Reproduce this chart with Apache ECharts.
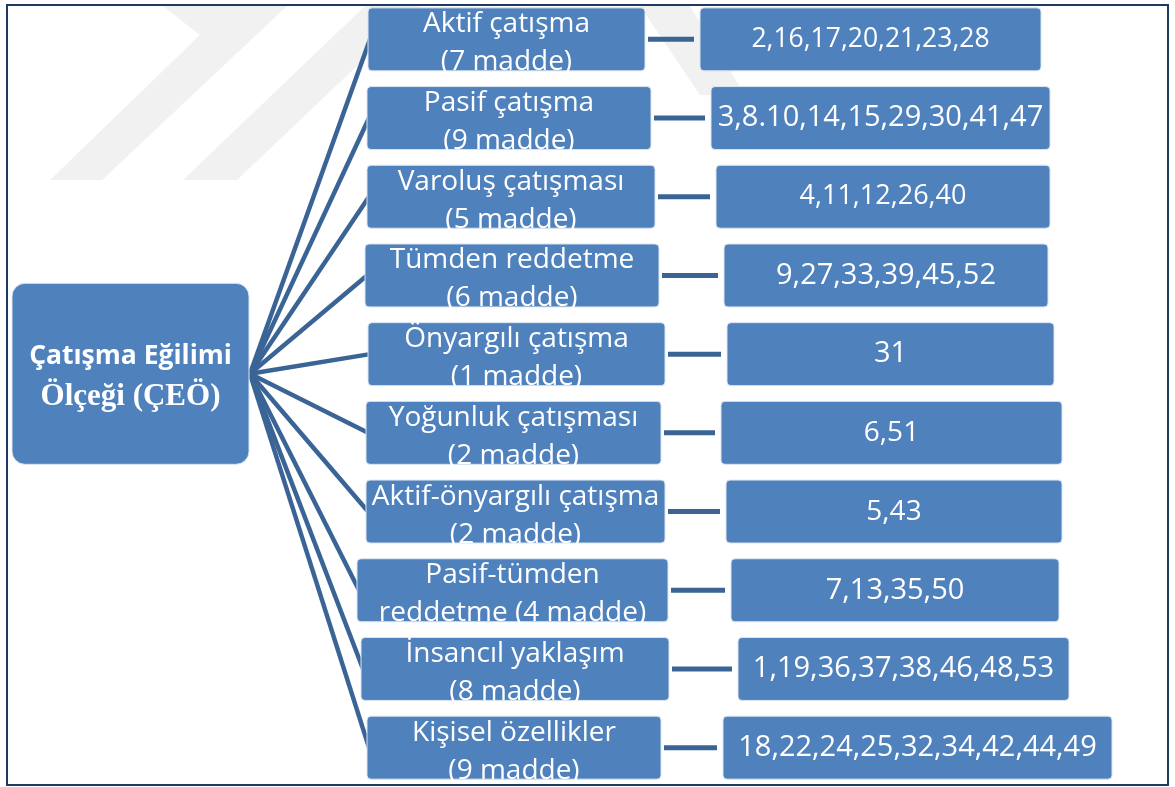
<!DOCTYPE html>
<html>
<head>
<meta charset="utf-8">
<script src="https://cdn.jsdelivr.net/npm/echarts@6/dist/echarts.min.js"></script>
<style>
  html, body { margin: 0; padding: 0; background: #fff; }
  #diagram { width: 1175px; height: 787px; }
</style>
</head>
<body>
<div id="diagram"></div>
<script>
var diagram = echarts.init(document.getElementById('diagram'));

// --- data ---
var rootTitle = 'Çatışma Eğilimi';
var rootSubtitle = 'Ölçeği (ÇEÖ)';
var subscaleLabels = [
    'Aktif çatışma\n(7 madde)',
    'Pasif çatışma\n(9 madde)',
    'Varoluş çatışması\n(5 madde)',
    'Tümden reddetme\n(6 madde)',
    'Önyargılı çatışma\n(1 madde)',
    'Yoğunluk çatışması\n(2 madde)',
    'Aktif-önyargılı çatışma\n(2 madde)',
    'Pasif-tümden\nreddetme (4 madde)',
    'İnsancıl yaklaşım\n(8 madde)',
    'Kişisel özellikler\n(9 madde)'
];
var itemNumbers = [
    '2,16,17,20,21,23,28',
    '3,8.10,14,15,29,30,41,47',
    '4,11,12,26,40',
    '9,27,33,39,45,52',
    '31',
    '6,51',
    '5,43',
    '7,13,35,50',
    '1,19,36,37,38,46,48,53',
    '18,22,24,25,32,34,42,44,49'
];

// --- layout (x in axis units = px) ---
var midLeft = [368, 367, 367, 365, 368, 366, 366, 357, 361, 367];
var midRight = [645, 651, 655, 659, 665, 661, 665, 668, 669, 661];
var rightLeft = [700, 711, 716, 724, 727, 721, 726, 731, 738, 723];
var rightRight = [1041, 1050, 1050, 1048, 1054, 1062, 1062, 1059, 1069, 1112];
var rightFont = [26.5, 29, 27, 29, 29, 28, 28, 29, 29, 29];
var rootBox = { x0: 12, x1: 249, row: 4.25, rows: 2.3 };

var BOX = '#4f81bd';
var BOX_EDGE = '#dbe5f1';
var LINE = '#3b6496';

function rowIndex() {
    var d = [];
    for (var i = 0; i < subscaleLabels.length; ++i) d.push([i]);
    return d;
}

function renderFan(params, api) {
    var i = api.value(0);
    var from = api.coord([rootBox.x1 + 1, rootBox.row]);
    var to = api.coord([midLeft[i] + 2, i]);
    return {
        type: 'line',
        shape: { x1: from[0], y1: from[1], x2: to[0], y2: to[1] },
        style: { stroke: LINE, lineWidth: 4.5 }
    };
}

function renderRow(params, api) {
    var i = api.value(0);
    var h = api.size([0, 0.8])[1];
    var ml = api.coord([midLeft[i], i]);
    var mr = api.coord([midRight[i], i]);
    var rl = api.coord([rightLeft[i], i]);
    var rr = api.coord([rightRight[i], i]);
    var cy = ml[1];
    return {
        type: 'group',
        children: [
            {
                type: 'line',
                shape: { x1: mr[0] + 3, y1: cy, x2: rl[0] - 6, y2: cy },
                style: { stroke: LINE, lineWidth: 5 }
            },
            {
                type: 'rect',
                shape: { x: ml[0], y: cy - h / 2, width: mr[0] - ml[0], height: h, r: 4 },
                style: { fill: BOX, stroke: BOX_EDGE, lineWidth: 1 }
            },
            {
                type: 'text',
                style: {
                    text: subscaleLabels[i],
                    x: (ml[0] + mr[0]) / 2, y: cy + 4,
                    align: 'center', verticalAlign: 'middle',
                    fill: '#fff', lineHeight: 38,
                    font: '28px "Open Sans"'
                }
            },
            {
                type: 'rect',
                shape: { x: rl[0], y: cy - h / 2, width: rr[0] - rl[0], height: h, r: 4 },
                style: { fill: BOX, stroke: BOX_EDGE, lineWidth: 1 }
            },
            {
                type: 'text',
                style: {
                    text: itemNumbers[i],
                    x: (rl[0] + rr[0]) / 2, y: cy,
                    align: 'center', verticalAlign: 'middle',
                    fill: '#fff',
                    font: rightFont[i] + 'px "Open Sans"'
                }
            }
        ]
    };
}

function renderRoot(params, api) {
    var a = api.coord([rootBox.x0, rootBox.row]);
    var b = api.coord([rootBox.x1, rootBox.row]);
    var h = api.size([0, rootBox.rows])[1];
    var cx = (a[0] + b[0]) / 2;
    return {
        type: 'group',
        children: [
            {
                type: 'rect',
                shape: { x: a[0], y: a[1] - h / 2, width: b[0] - a[0], height: h, r: 13 },
                style: { fill: BOX, stroke: BOX_EDGE, lineWidth: 1 }
            },
            {
                type: 'text',
                style: {
                    text: rootTitle, x: cx, y: a[1] - 17,
                    align: 'center', verticalAlign: 'middle', fill: '#fff',
                    font: 'bold 26.5px "Open Sans"'
                }
            },
            {
                type: 'text',
                style: {
                    text: rootSubtitle, x: cx, y: a[1] + 23,
                    align: 'center', verticalAlign: 'middle', fill: '#fff',
                    font: 'bold 31px "Liberation Serif"'
                }
            }
        ]
    };
}

var option = {
    animation: false,
    backgroundColor: '#fff',
    grid: { left: 0, top: 0, width: 1175, height: 794 },
    xAxis: { type: 'value', min: 0, max: 1175, show: false },
    yAxis: { type: 'value', min: -0.5, max: 9.5, inverse: true, show: false },
    graphic: [
        // faint watermark behind the diagram
        {
            type: 'polygon', z: -10, silent: true,
            shape: { points: [[163, 6], [200, 35], [50, 180], [102, 180], [287, 6]] },
            style: { fill: '#f1f1f1' }
        },
        {
            type: 'polygon', z: -10, silent: true,
            shape: { points: [[183, 180], [237, 180], [420, 6], [365, 6]] },
            style: { fill: '#f1f1f1' }
        },
        {
            type: 'polygon', z: -10, silent: true,
            shape: { points: [[640, 6], [690, 6], [745, 95], [700, 95]] },
            style: { fill: '#f1f1f1' }
        },
        {
            type: 'rect', z: 100, silent: true,
            shape: { x: 7, y: 5, width: 1161, height: 780 },
            style: { fill: 'none', stroke: '#1f3a60', lineWidth: 2 }
        }
    ],
    series: [
        {
            type: 'custom',
            name: 'fan',
            z: 1,
            renderItem: renderFan,
            data: rowIndex()
        },
        {
            type: 'custom',
            name: 'subscales',
            z: 2,
            renderItem: renderRow,
            data: rowIndex()
        },
        {
            type: 'custom',
            name: 'root',
            z: 3,
            renderItem: renderRoot,
            data: [[0]]
        }
    ]
};
diagram.setOption(option);
</script>
</body>
</html>
